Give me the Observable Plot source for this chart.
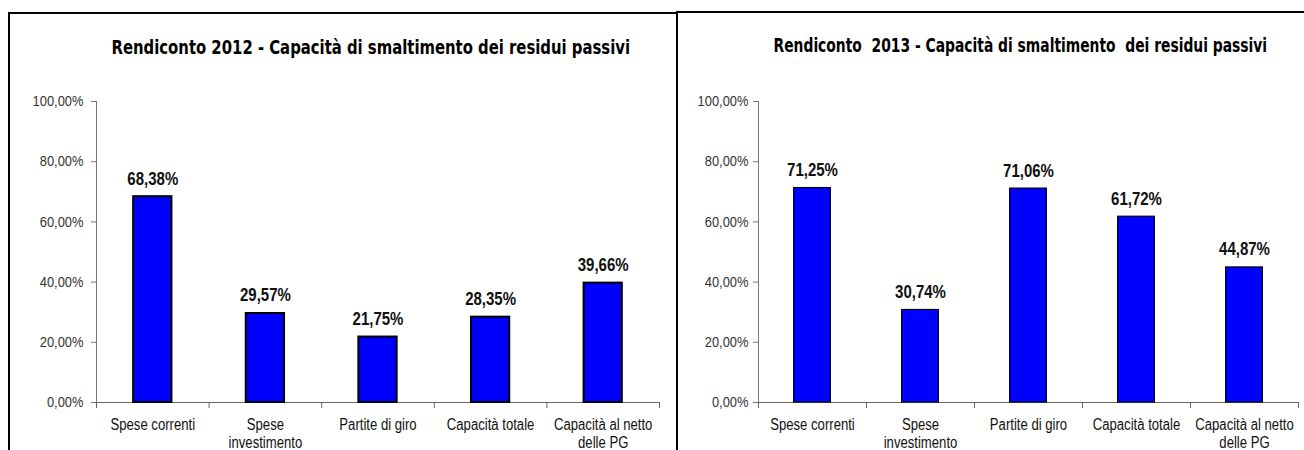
<!DOCTYPE html>
<html>
<head>
<meta charset="utf-8">
<script src="https://cdn.jsdelivr.net/npm/d3@7"></script>
<script src="https://cdn.jsdelivr.net/npm/@observablehq/plot@0.6"></script>
<style>
  html, body { margin: 0; padding: 0; background: #fff; }
  body { width: 1304px; height: 450px; overflow: hidden; position: relative; }
  .border { position: absolute; box-sizing: border-box; border-top: 2px solid #000; border-left: 2px solid #000; pointer-events: none; z-index: 2; }
  .chart { position: absolute; top: 0; }
  .chart svg { display: block; }
</style>
</head>
<body>
<div class="border" style="left:8px;top:12px;width:669px;height:440px;"></div>
<div class="border" style="left:676px;top:11px;width:628px;height:441px;"></div>
<div id="c2012" class="chart" style="left:0px;"></div>
<div id="c2013" class="chart" style="left:677px;"></div>
<script>
// ---- data ----
const categories = ["Spese correnti", "Spese\ninvestimento", "Partite di giro", "Capacità totale", "Capacità al netto\ndelle PG"];
const values2012 = [68.38, 29.57, 21.75, 28.35, 39.66];
const values2013 = [71.25, 30.74, 71.06, 61.72, 44.87];
const yTicks = [0, 20, 40, 60, 80, 100];
const title2012 = "Rendiconto 2012 - Capacità di smaltimento dei residui passivi";
const title2013 = "Rendiconto  2013 - Capacità di smaltimento  dei residui passivi";

const SANS = '"Liberation Sans", Arial, sans-serif';
const TITLEFONT = '"DejaVu Sans Condensed", "DejaVu Sans", sans-serif';
const fmt = v => v.toFixed(2).replace(".", ",") + "%";
// horizontal condensing per font size (mimics a narrow face)
const condense = {"14.5": 0.89, "16": 0.82, "19": 0.79};

function squeeze(el, s) {
  const t = el.getAttribute("transform");
  if (t) el.setAttribute("transform", t + ` scale(${s},1)`);
  else {
    const x = +(el.getAttribute("x") || 0);
    el.setAttribute("x", x / s);
    el.setAttribute("transform", `scale(${s},1)`);
  }
}

function makeChart(container, {values, title, width, marginLeft, marginRight, tickPadding, barStroke, titleWidth, titleDy}) {
  const rows = categories.map((c, i) => ({c, i, v: values[i]}));
  const boundaries = categories.map((_, i) => i - 0.5).concat([categories.length - 0.5]);
  const svg = Plot.plot({
    width, height: 450,
    marginLeft, marginRight, marginTop: 101, marginBottom: 48,
    x: {domain: [-0.5, categories.length - 0.5], axis: null},
    y: {domain: [0, 100], axis: null},
    style: {background: "transparent", fontFamily: SANS, overflow: "visible"},
    marks: [
      Plot.axisY({ticks: yTicks, tickSize: 5, tickPadding, tickFormat: fmt, fontSize: 14.5, label: null, color: "#333", stroke: "#777"}),
      Plot.axisX({ticks: boundaries, tickSize: 6, tickFormat: () => "", label: null, stroke: "#666"}),
      Plot.ruleX([-0.5], {stroke: "#777"}),
      Plot.ruleY([0], {stroke: "#666"}),
      Plot.rectY(rows, {x1: d => d.i - 0.17, x2: d => d.i + 0.17, y: "v", fill: "#0000ff", stroke: "#000", strokeWidth: barStroke}),
      Plot.text(rows, {x: "i", y: "v", text: d => fmt(d.v), dy: -12, lineAnchor: "bottom", fontSize: 19, fontWeight: "bold", fill: "#111"}),
      Plot.text(rows, {x: "i", y: 0, text: "c", lineAnchor: "top", dy: 13.9, fontSize: 16, lineHeight: 1.156, fill: "#111"}),
      Plot.text([title], {frameAnchor: "top-left", dx: 15, dy: titleDy, lineAnchor: "bottom", textAnchor: "start", fontSize: 20, fontWeight: "bold", fontFamily: TITLEFONT, fill: "#000"})
    ]
  });
  container.appendChild(svg);
  d3.select(svg).selectAll("text").each(function() {
    if (this.textContent === title) {
      this.style.whiteSpace = "pre";
      const w = this.getComputedTextLength();
      if (w > 0) squeeze(this, titleWidth / w);
      return;
    }
    const g = this.closest("g[font-size]");
    const fs = g ? String(+g.getAttribute("font-size")) : null;
    const s = condense[fs];
    if (s) squeeze(this, s);
  });
}

makeChart(document.getElementById("c2012"), {
  values: values2012, title: title2012, width: 677, marginLeft: 96, marginRight: 18,
  tickPadding: 8, barStroke: 2, titleWidth: 519, titleDy: -48
});
makeChart(document.getElementById("c2013"), {
  values: values2013, title: title2013, width: 627, marginLeft: 81, marginRight: 6,
  tickPadding: 5, barStroke: 1.2, titleWidth: 494, titleDy: -49.5
});
</script>
</body>
</html>
